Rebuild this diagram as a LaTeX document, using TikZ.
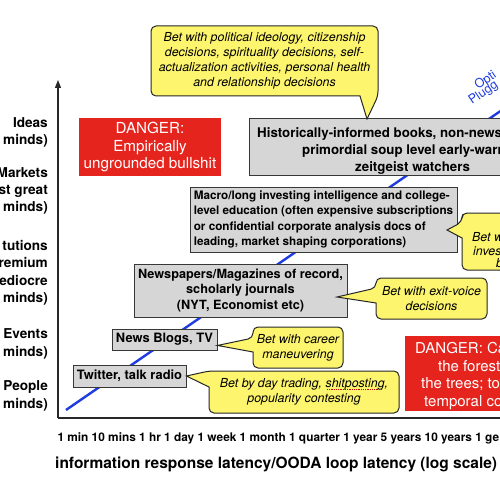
\documentclass[tikz,border=0pt]{standalone}
\usepackage{fontspec}
\setmainfont{TeX Gyre Heros}
\usetikzlibrary{arrows.meta,calc}
\definecolor{boxgray}{RGB}{214,214,214}
\definecolor{boxline}{RGB}{55,55,55}
\definecolor{yel}{RGB}{253,245,110}
\definecolor{dred}{RGB}{230,36,30}
\definecolor{lblue}{RGB}{30,60,225}
\definecolor{axiscol}{RGB}{40,40,40}
\begin{document}
\begin{tikzpicture}[x=1pt,y=-1pt,
  gbox/.style={draw=boxline, fill=boxgray, line width=0.9pt, inner sep=0pt, align=center,
    font=\bfseries\fontsize{12.9}{15.5}\selectfont},
  plain/.style={inner sep=0pt, anchor=base west},
  htext/.style={plain, font=\bfseries\fontsize{13.3}{17}\selectfont},
  ybox/.style={draw=black!85, fill=yel, line width=1pt},
  ytext/.style={inner sep=0pt, align=center, font=\itshape\fontsize{12.4}{15}\selectfont},
  yfrag/.style={plain, font=\itshape\fontsize{12.4}{15}\selectfont},
  rbox/.style={fill=dred, text=white, inner sep=0pt, align=center,
    font=\fontsize{15.2}{17.5}\selectfont},
  rfrag/.style={plain, text=white, font=\fontsize{15}{17.5}\selectfont},
  ylab/.style={inner sep=0pt, anchor=base east, font=\bfseries\fontsize{13.6}{17.5}\selectfont},
  btext/.style={plain, text=lblue, rotate=34.5, font=\fontsize{12.5}{15}\selectfont},
  axisline/.style={draw=axiscol, line width=1.3pt}
]
\useasboundingbox (0,0) rectangle (500,500);
\fill[white] (0,0) rectangle (500,500);
\begin{scope}
\clip (0,0) rectangle (500,500);

% diagonal trend line
\coordinate (b0) at (66,410);
\coordinate (b1) at (520,97.6);
\draw[lblue, line width=2.4pt] (b0) -- (b1);

% axes
\coordinate (o) at (58,418);
\coordinate (ytop) at (58,80);
\coordinate (xend) at (520,418);
\draw[axisline, -{Triangle[length=8pt,width=6pt]}] (o) -- (ytop);
\draw[axisline] (o) -- (xend);

% y labels
\foreach \t/\y [count=\i] in {Ideas/127.5, minds)/144.8, Markets/177.7, st great/194.6, minds)/211.8,
  tutions/250, remium/267.6, ediocre/285, minds)/302.6, Events/338.4, minds)/356,
  People/390.8, minds)/408.3}
  \node[ylab] (yl\i) at (48,\y) {\t};

% x labels
\node[plain, font=\bfseries\fontsize{11.85}{14}\selectfont] (xt) at (57.3,441)
  {1 min 10 mins 1 hr 1 day 1 week 1 month 1 quarter 1 year 5 years 10 years 1 ge};
\node[plain, font=\bfseries\fontsize{15.5}{18}\selectfont] (xl) at (55,468)
  {information response latency/OODA loop latency (log scale)};

% grey boxes
\node[gbox, minimum width=113, minimum height=22] (tw) at (129.5,376) {Twitter, talk radio};
\node[gbox, minimum width=105, minimum height=21] (nb) at (164.5,339.5) {News Blogs, TV};
\node[gbox, minimum width=213, minimum height=53, font=\bfseries\fontsize{12.7}{15.5}\selectfont]
  (np) at (240.5,290.5) {Newspapers/Magazines of record,\\scholarly journals\\(NYT, Economist etc)};
\node[gbox, minimum width=267, minimum height=65, align=left, font=\bfseries\fontsize{11.7}{15.6}\selectfont]
  (mac) at (323.5,219.5) {Macro/long investing intelligence and college-\\level education (often expensive subscriptions\\or confidential corporate analysis docs of\\leading, market shaping corporations)};
\node[gbox, minimum width=326, minimum height=57] (hist) at (412,146.5) {};
\node[htext] (h1) at (257,137) {Historically-informed books, non-news};
\node[htext] (h2) at (302,154) {primordial soup level early-warn};
\node[htext] (h3) at (355,171) {zeitgeist watchers};

% red boxes
\node[rbox, minimum width=142, minimum height=58] (d1) at (150,147) {DANGER:\\Empirically\\ungrounded bullshit};
\node[rbox, minimum width=170, minimum height=75] (d2) at (490,373.5) {};
\node[rfrag] (r1) at (415,353.5) {DANGER: Ca};
\node[rfrag] (r2) at (438,371) {the forest};
\node[rfrag] (r3) at (421,388.5) {the trees; to};
\node[rfrag] (r4) at (424,406) {temporal co};

% yellow callouts
\coordinate (tA) at (367,119);
\draw[ybox] (tA) -- (360,96) [rounded corners=5pt] -- (151,96) -- (151,26) -- (378,26) -- (378,96) [sharp corners] -- cycle;
\node[ytext] (ta) at (264.5,61) {Bet with political ideology, citizenship\\decisions, spirituality decisions, self-\\actualization activities, personal health\\and relationship decisions};

\coordinate (tB) at (337,297);
\draw[ybox] (tB) -- (376,303) [rounded corners=5pt] -- (376,319) -- (487,319) -- (487,278) -- (376,278) -- (376,288) [sharp corners] -- cycle;
\node[ytext] (tb) at (431.5,298.5) {Bet with exit-voice\\decisions};

\coordinate (tC) at ($(nb.south east)+(0,-5)$);
\draw[ybox] (tC) -- (253,352) [rounded corners=5pt] -- (253,368) -- (343,368) -- (343,327) -- (253,327) -- (253,338) [sharp corners] -- cycle;
\node[ytext] (tc) at (298,347.5) {Bet with career\\maneuvering};

\coordinate (tD) at (tw.east);
\draw[ybox] (tD) -- (209,387) [rounded corners=5pt] -- (209,413) -- (399,413) -- (399,371) -- (209,371) [sharp corners] -- cycle;
\node[ytext] (td) at (304,392) {Bet by day trading, shitposting,\\popularity contesting};
\coordinate (u0) at (327,389.5);
\coordinate (u1) at (382,389.5);
\draw[red!80!black, densely dotted, line width=0.8pt] (u0) -- (u1);

\coordinate (tE) at (447,230);
\draw[ybox] (tE) -- (462,238) [rounded corners=5pt] -- (462,270) -- (560,270) -- (560,213) -- (462,213) -- (462,222) [sharp corners] -- cycle;
\node[yfrag] (te1) at (472,241.5) {Bet w};
\node[yfrag] (te2) at (473,255.5) {inves};
\node[yfrag] (te3) at (496,267.5) {b};

% blue line label
\node[btext] (o1) at (478,90) {Opti};
\node[btext] (o2) at (472,105) {Plugg};
\end{scope}
\end{tikzpicture}
\end{document}
